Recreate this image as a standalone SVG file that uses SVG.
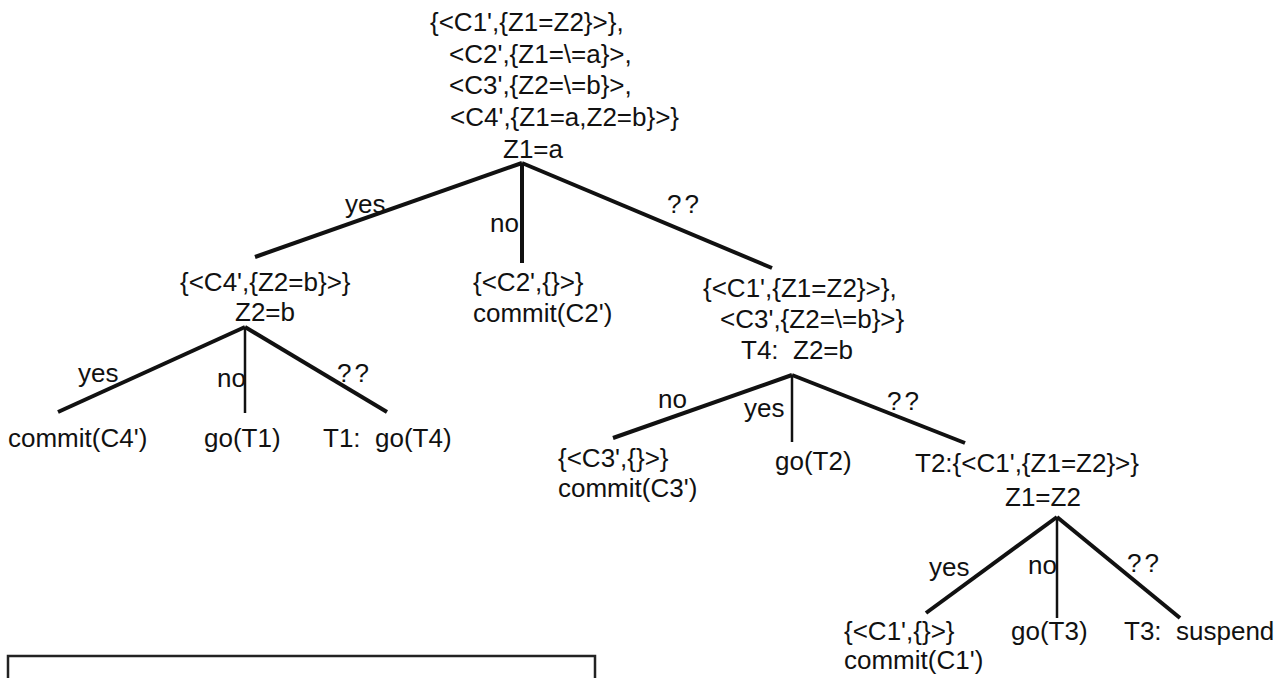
<svg xmlns="http://www.w3.org/2000/svg" width="1284" height="678" viewBox="0 0 1284 678">
  <style>
    text { font-family: "Liberation Sans", Arial, Helvetica, sans-serif; font-size: 26px; fill: #111; }
    .q { letter-spacing: 3px; }
    .edge { stroke: #111; stroke-width: 4; stroke-linecap: butt; fill: none; }
    .stem { stroke: #111; stroke-width: 2.5; fill: none; }
    .frame { stroke: #222; stroke-width: 2.5; fill: none; }
  </style>
  <rect width="1284" height="678" fill="#ffffff"/>

  <!-- connectors of the decision tree -->
  <g id="connectors">
    <!-- root test Z1=a -->
    <line class="edge" x1="522" y1="163" x2="255" y2="257"/>
    <line class="edge" x1="522" y1="163" x2="522" y2="263"/>
    <line class="edge" x1="522" y1="163" x2="772" y2="268"/>
    <!-- test Z2=b -->
    <line class="edge" x1="245" y1="327" x2="58" y2="412"/>
    <line class="stem" x1="245" y1="327" x2="245" y2="413"/>
    <line class="edge" x1="245" y1="327" x2="387" y2="412"/>
    <!-- test T4: Z2=b -->
    <line class="edge" x1="792" y1="375" x2="613" y2="438"/>
    <line class="stem" x1="792" y1="375" x2="792" y2="442"/>
    <line class="edge" x1="792" y1="375" x2="965" y2="443"/>
    <!-- test Z1=Z2 -->
    <line class="edge" x1="1057" y1="517" x2="926" y2="613"/>
    <line class="stem" x1="1057" y1="517" x2="1057" y2="618"/>
    <line class="edge" x1="1057" y1="517" x2="1180" y2="618"/>

    <!-- branch labels -->
    <text x="345" y="213">yes</text>
    <text x="490" y="232">no</text>
    <text class="q" x="667" y="213">??</text>

    <text x="78" y="382">yes</text>
    <text x="217" y="387">no</text>
    <text class="q" x="337" y="382">??</text>

    <text x="658" y="408">no</text>
    <text x="744" y="417">yes</text>
    <text class="q" x="887" y="410">??</text>

    <text x="929" y="576">yes</text>
    <text x="1028" y="574">no</text>
    <text class="q" x="1127" y="572">??</text>
  </g>

  <g id="root">
    <text x="430" y="31">{&lt;C1',{Z1=Z2}&gt;},</text>
    <text x="449" y="63">&lt;C2',{Z1=\=a}&gt;,</text>
    <text x="449" y="94">&lt;C3',{Z2=\=b}&gt;,</text>
    <text x="450" y="126">&lt;C4',{Z1=a,Z2=b}&gt;}</text>
    <text x="503" y="158">Z1=a</text>
  </g>

  <g id="node-c4">
    <text x="180" y="291">{&lt;C4',{Z2=b}&gt;}</text>
    <text x="235" y="321">Z2=b</text>
  </g>

  <g id="leaf-commit-c4">
    <text x="8" y="447">commit(C4')</text>
  </g>
  <g id="leaf-go-t1">
    <text x="204" y="447">go(T1)</text>
  </g>
  <g id="leaf-t1">
    <text x="323" y="447" xml:space="preserve">T1:  go(T4)</text>
  </g>

  <g id="node-c2">
    <text x="473" y="291">{&lt;C2',{}&gt;}</text>
    <text x="473" y="322">commit(C2')</text>
  </g>

  <g id="node-t4">
    <text x="703" y="297">{&lt;C1',{Z1=Z2}&gt;},</text>
    <text x="720" y="328">&lt;C3',{Z2=\=b}&gt;}</text>
    <text x="741" y="359" xml:space="preserve">T4:  Z2=b</text>
  </g>

  <g id="node-c3">
    <text x="558" y="467">{&lt;C3',{}&gt;}</text>
    <text x="558" y="497">commit(C3')</text>
  </g>

  <g id="leaf-go-t2">
    <text x="775" y="470">go(T2)</text>
  </g>

  <g id="node-t2">
    <text x="915" y="472">T2:{&lt;C1',{Z1=Z2}&gt;}</text>
    <text x="1005" y="506">Z1=Z2</text>
  </g>

  <g id="node-c1">
    <text x="844" y="640">{&lt;C1',{}&gt;}</text>
    <text x="844" y="669">commit(C1')</text>
  </g>
  <g id="leaf-go-t3">
    <text x="1011" y="640">go(T3)</text>
  </g>
  <g id="leaf-t3">
    <text x="1124" y="640" xml:space="preserve">T3:  suspend</text>
  </g>

  <!-- empty frame at the foot of the page -->
  <g id="frame">
    <path class="frame" d="M8,690 V656 H595 V690"/>
  </g>
</svg>
